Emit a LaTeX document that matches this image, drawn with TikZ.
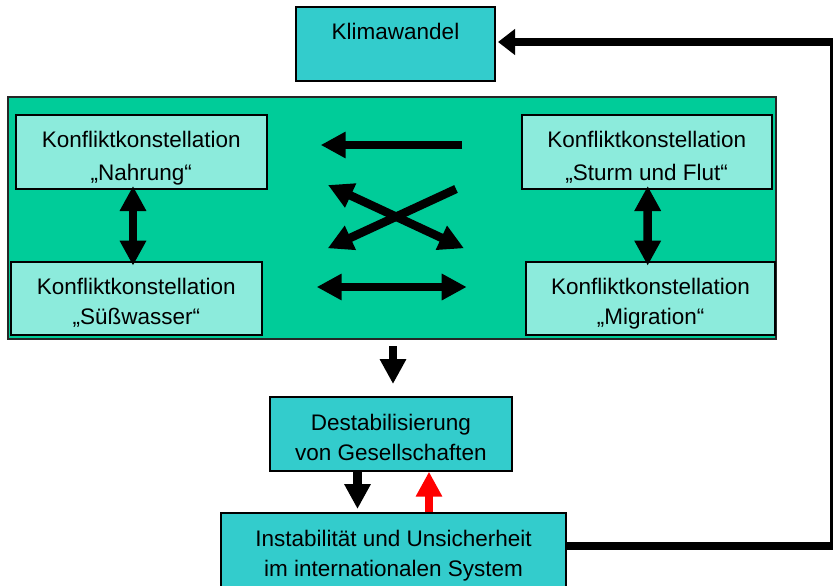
\documentclass[tikz,border=0pt]{standalone}
\usepackage{fontspec}
\setmainfont{Liberation Sans}
\usetikzlibrary{arrows.meta}
\definecolor{tealbox}{RGB}{51,204,204}
\definecolor{greenbg}{RGB}{0,204,153}
\definecolor{lightbox}{RGB}{140,235,220}
\newcommand\twoline[1]{\begin{tabular}[t]{@{}c@{}}#1\end{tabular}}
\begin{document}
\begin{tikzpicture}[x=1pt,y=-1pt,
  basebox/.style={draw=black, line width=2pt, rectangle, inner sep=0pt, text height=0pt},
  kbox/.style={basebox, fill=lightbox},
  tbox/.style={basebox, fill=tealbox},
  upperfont/.style={font=\fontsize{22.5}{33.4}\selectfont},
  lowerfont/.style={font=\fontsize{22.5}{30}\selectfont},
  fat/.style={line width=8.5pt, -{Triangle[length=25pt,width=25pt]}},
  dbl/.style={line width=8.5pt, {Triangle[length=25pt,width=25pt]}-{Triangle[length=25pt,width=25pt]}},
  fbline/.style={line width=8.5pt},
  fbthin/.style={line width=3pt}
]
\useasboundingbox (0,0) rectangle (833,586);
\clip (0,0) rectangle (833,586);

% main green frame
\node[draw=black!85, line width=2.5pt, fill=greenbg, rectangle, inner sep=0pt,
      minimum width=768pt, minimum height=242pt] (frame) at (392,218) {};

% top box
\node[tbox, upperfont, minimum width=199pt, minimum height=74pt, text depth=8pt]
  (klima) at (395.5,44) {Klimawandel};

% four constellations
\node[kbox, upperfont, minimum width=251pt, minimum height=74pt, text depth=9.4pt]
  (nahrung) at (141.2,152) {\twoline{Konfliktkonstellation\\„Nahrung“}};
\node[kbox, upperfont, minimum width=250pt, minimum height=74pt, text depth=9.4pt]
  (sturm) at (646.7,152) {\twoline{Konfliktkonstellation\\„Sturm und Flut“}};
\node[kbox, lowerfont, minimum width=250.7pt, minimum height=73.3pt, text depth=8pt]
  (suess) at (136.3,298.3) {\twoline{Konfliktkonstellation\\„Süßwasser“}};
\node[kbox, lowerfont, minimum width=249.3pt, minimum height=73.3pt, text depth=8pt]
  (migr) at (650.6,298.3) {\twoline{Konfliktkonstellation\\„Migration“}};

% lower boxes
\node[tbox, font=\fontsize{22.5}{30.7}\selectfont, minimum width=241.7pt, minimum height=74pt, text depth=7.4pt]
  (destab) at (390.9,433.7) {\twoline{Destabilisierung\\von Gesellschaften}};
\node[tbox, lowerfont, minimum width=345pt, minimum height=99.4pt, text depth=31.4pt]
  (instab) at (393.5,562.4) {\twoline{Instabilität und Unsicherheit\\im internationalen System}};

% vertical double arrows inside the frame
\draw[dbl] ([xshift=-8.2pt,yshift=4pt]nahrung.south) -- ([xshift=-3.3pt,yshift=-5pt]suess.north);
\draw[dbl] ([xshift=1pt,yshift=4pt]sturm.south) -- ([xshift=-2.9pt,yshift=-5pt]migr.north);

% arrows in the middle of the frame
\coordinate (l1s) at (462,145);
\coordinate (l1e) at (320.7,145);
\coordinate (xa1) at (456,189);
\coordinate (xa2) at (327.7,248.3);
\coordinate (xb1) at (328,185);
\coordinate (xb2) at (464,248.3);
\coordinate (h1) at (316.7,287);
\coordinate (h2) at (466.7,287);
\draw[fat] (l1s) -- (l1e);
\draw[fat] (xa1) -- (xa2);
\draw[dbl] (xb1) -- (xb2);
\draw[dbl] (h1) -- (h2);

% downward flow
\draw[fat] ([xshift=1pt,yshift=-6pt]frame.south) -- ([xshift=2.1pt,yshift=11.7pt]destab.north);
\draw[fat] ([xshift=-33.4pt]destab.south) -- ([xshift=-36pt,yshift=2.7pt]instab.north);
\draw[fat, red] ([xshift=35.5pt,yshift=-0.5pt]instab.north) -- ([xshift=38.1pt]destab.south);

% feedback loop
\coordinate (fbB) at (831.5,546);
\coordinate (fbT) at (831.5,42);
\draw[fbline] (instab.east |- fbB) -- ([xshift=1.5pt]fbB);
\draw[fbthin] (fbB) -- (fbT);
\draw[fbline, -{Triangle[length=17pt,width=25pt]}] ([xshift=1.5pt]fbT) -- ([xshift=2pt]klima.east |- fbT);
\end{tikzpicture}
\end{document}
